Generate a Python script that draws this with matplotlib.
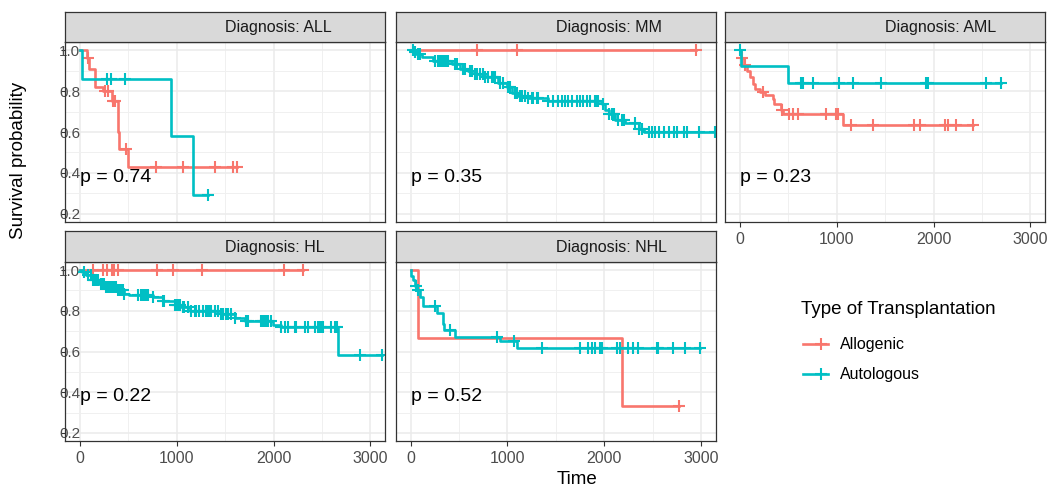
import numpy as np
import matplotlib
matplotlib.use("Agg")
import matplotlib.pyplot as plt
from matplotlib.ticker import MultipleLocator

plt.rcParams['font.family'] = ['Liberation Sans', 'DejaVu Sans']

# Kaplan-Meier curves: event times, survival after each event, censor times
all_allo_t = [72, 88, 155, 240, 330, 389, 400, 492]
all_allo_s = [0.96, 0.91, 0.82, 0.80, 0.75, 0.60, 0.515, 0.43]
all_allo_c = [80, 260, 290, 345, 360, 476, 790, 1060, 1390, 1580, 1625]
all_auto_t = [20, 941, 1166]
all_auto_s = [0.86, 0.58, 0.29]
all_auto_c = [276, 321, 466, 1320]

mm_allo_t = []
mm_allo_s = []
mm_allo_c = [689, 1096, 2947]
mm_auto_t = [30, 60, 114, 234, 424, 510, 597, 666, 769, 907, 993, 1045, 1114, 1217, 1424,
             1976, 2010, 2045, 2114, 2217, 2355, 2407]
mm_auto_s = [0.99, 0.98, 0.969, 0.949, 0.933, 0.908, 0.897, 0.883, 0.87, 0.842, 0.818, 0.793,
             0.777, 0.765, 0.752, 0.736, 0.71, 0.686, 0.657, 0.645, 0.617, 0.60]
mm_auto_c = [28, 45, 79, 97, 252, 286, 303, 321, 338, 355, 372, 390, 459, 476, 545, 562, 614,
             631, 666, 683, 717, 752, 769, 803, 838, 855, 872, 924, 959, 1010, 1028, 1079, 1097,
             1131, 1148, 1183, 1217, 1252, 1269, 1303, 1321, 1424, 1476, 1528, 1562, 1597, 1631,
             1666, 1717, 1752, 1786, 1821, 1855, 1907, 1924, 1941, 1993, 2045, 2079, 2097, 2148,
             2183, 2200, 2321, 2355, 2390, 2459, 2493, 2528, 2562, 2614, 2666, 2717, 2752, 2821,
             2855, 2976, 3140]

aml_allo_t = [10, 40, 70, 100, 130, 160, 210, 260, 338, 355, 424, 441, 1061]
aml_allo_s = [0.96, 0.93, 0.90, 0.87, 0.836, 0.81, 0.795, 0.78, 0.76, 0.735, 0.71, 0.688, 0.634]
aml_allo_c = [20, 50, 240, 430, 510, 544, 596, 889, 993, 1010, 1148, 1371, 1802, 1854, 2113,
              2147, 2234, 2406]
aml_auto_t = [12, 493]
aml_auto_s = [0.923, 0.839]
aml_auto_c = [5, 631, 647, 751, 1027, 1164, 1458, 1923, 1941, 2544, 2699]

hl_allo_t = []
hl_allo_s = []
hl_allo_c = [130, 240, 280, 330, 350, 390, 800, 960, 1260, 2110, 2300]
hl_auto_t = [20, 62, 131, 200, 269, 390, 459, 510, 752, 855, 976, 1045, 1131, 1459, 1597, 1700,
             1993, 2079, 2666]
hl_auto_s = [0.99, 0.974, 0.952, 0.932, 0.916, 0.90, 0.883, 0.878, 0.866, 0.85, 0.83, 0.817,
             0.80, 0.784, 0.764, 0.748, 0.731, 0.721, 0.582]
hl_auto_c = [45, 79, 114, 131, 148, 166, 183, 217, 234, 252, 269, 286, 303, 321, 338, 355, 372,
             390, 407, 424, 441, 459, 597, 631, 648, 666, 683, 700, 752, 855, 872, 976, 993, 1010,
             1028, 1062, 1079, 1114, 1148, 1183, 1200, 1234, 1269, 1303, 1321, 1338, 1355, 1390,
             1424, 1459, 1476, 1510, 1528, 1562, 1597, 1717, 1734, 1872, 1890, 1907, 1924, 1941,
             1976, 2079, 2114, 2148, 2217, 2234, 2321, 2355, 2424, 2459, 2476, 2493, 2510, 2597,
             2631, 2650, 2890, 3114]

nhl_allo_t = [79, 2182]
nhl_allo_s = [0.667, 0.333]
nhl_allo_c = [2768]
nhl_auto_t = [10, 30, 50, 70, 97, 131, 269, 337, 350, 459, 925, 1096]
nhl_auto_s = [0.97, 0.95, 0.92, 0.90, 0.866, 0.825, 0.79, 0.734, 0.705, 0.672, 0.65, 0.617]
nhl_auto_c = [60, 80, 252, 406, 891, 1068, 1355, 1751, 1837, 1872, 1906, 1958, 1975, 2130, 2164,
              2250, 2302, 2354, 2544, 2560, 2716, 2837, 2992]

diagnoses = ["ALL", "MM", "AML", "HL", "NHL"]
p_values = ["0.74", "0.35", "0.23", "0.22", "0.52"]
groups = ["Allogenic", "Autologous"]
colors = ["#F8766D", "#00BFC4"]
x_ticks = [0, 1000, 2000, 3000]
y_ticks = [0.2, 0.4, 0.6, 0.8, 1.0]

curves = {
    "ALL": [(all_allo_t, all_allo_s, all_allo_c), (all_auto_t, all_auto_s, all_auto_c)],
    "MM": [(mm_allo_t, mm_allo_s, mm_allo_c), (mm_auto_t, mm_auto_s, mm_auto_c)],
    "AML": [(aml_allo_t, aml_allo_s, aml_allo_c), (aml_auto_t, aml_auto_s, aml_auto_c)],
    "HL": [(hl_allo_t, hl_allo_s, hl_allo_c), (hl_auto_t, hl_auto_s, hl_auto_c)],
    "NHL": [(nhl_allo_t, nhl_allo_s, nhl_allo_c), (nhl_auto_t, nhl_auto_s, nhl_auto_c)],
}

W, H = 1062, 492
fig = plt.figure(figsize=(W / 100, H / 100), dpi=100)

# panel boxes in pixels: left, top, right, bottom
col_x = [65, 395.5, 725]
row_y = [(42, 222), (262, 441)]
panel_w = 320
strip_h = 30.5
# (row, col, show x labels, show y labels)
layout = [(0, 0, False, True), (0, 1, False, False), (0, 2, True, False),
          (1, 0, True, True), (1, 1, True, False)]

border = "#333333"
for diag, pval, (r, c, showx, showy) in zip(diagnoses, p_values, layout):
    top, bot = row_y[r]
    left = col_x[c]
    ax = fig.add_axes([left / W, 1 - bot / H, panel_w / W, (bot - top) / H])
    ax.set_xlim(-155, 3150)
    ax.set_ylim(0.16, 1.04)
    ax.set_xticks(x_ticks)
    ax.set_yticks(y_ticks)
    ax.xaxis.set_minor_locator(MultipleLocator(500))
    ax.yaxis.set_minor_locator(MultipleLocator(0.1))
    ax.grid(which="major", color="#EBEBEB", lw=1.1)
    ax.grid(which="minor", color="#F0F0F0", lw=0.7)
    ax.set_axisbelow(True)
    for sp in ax.spines.values():
        sp.set_color(border)
        sp.set_linewidth(0.9)
    ax.tick_params(which="minor", length=0)
    ax.tick_params(axis="x", colors=border, labelcolor="#4D4D4D", labelsize=11.5,
                   length=3.5, width=0.8, pad=4.0, labelbottom=showx, bottom=showx)
    ax.tick_params(axis="y", colors=border, labelcolor="#4D4D4D", labelsize=11,
                   length=3.0, width=0.8, pad=-13.8, labelleft=showy, left=showy)
    ax.set_xticklabels([str(v) for v in x_ticks])
    ax.set_yticklabels([f"{v:.1f}" for v in y_ticks])

    for (t, s, cens), col in zip(curves[diag], colors):
        end = max(list(t) + list(cens))
        xs = [0] + list(t) + [end]
        ys = [1.0] + list(s) + [s[-1] if s else 1.0]
        ax.step(xs, ys, where="post", color=col, lw=1.9)
        lev = np.concatenate([[1.0], s])
        idx = np.searchsorted(np.array(t, dtype=float), cens, side="right")
        ax.plot(cens, lev[idx], ls="none", marker="+", ms=8, mew=1.5, color=col)

    ax.text(0, 0.357, "p = " + pval, ha="left", va="baseline", fontsize=14, color="black")

    # facet strip
    sax = fig.add_axes([left / W, 1 - top / H, panel_w / W, strip_h / H])
    sax.set_facecolor("#D9D9D9")
    sax.set_xticks([])
    sax.set_yticks([])
    for sp in sax.spines.values():
        sp.set_color(border)
        sp.set_linewidth(0.9)
    sax.text(0.5, 0.47, "Diagnosis: " + diag, ha="left", va="center", fontsize=11.5,
             color="#1A1A1A", transform=sax.transAxes)

fig.text(19 / W, 1 - 160 / H, "Survival probability", rotation=90, ha="center", va="center",
         fontsize=13.5)
fig.text(577 / W, 1 - 479 / H, "Time", ha="center", va="center", fontsize=13.5)

# legend
lax = fig.add_axes([0, 0, 1, 1])
lax.set_xlim(0, W)
lax.set_ylim(H, 0)
lax.axis("off")
lax.patch.set_alpha(0)
lax.text(801, 310, "Type of Transplantation", ha="left", va="center", fontsize=13.5)
for i, (g, col) in enumerate(zip(groups, colors)):
    yy = 344 + 30 * i
    lax.plot([803, 828], [yy, yy], color=col, lw=1.9)
    lax.plot([821], [yy], ls="none", marker="+", ms=8, mew=1.5, color=col)
    lax.text(840, yy, g, ha="left", va="center", fontsize=11.5)

fig.savefig("out.png", dpi=100)
